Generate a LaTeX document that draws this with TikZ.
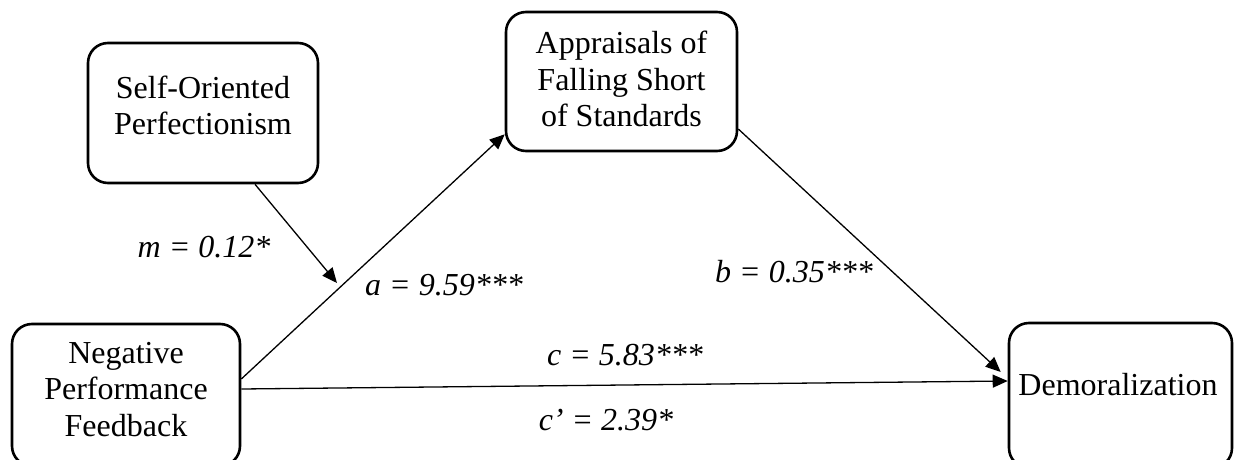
\documentclass[tikz,border=0pt]{standalone}
\usepackage{fontspec}
\setmainfont{Liberation Serif}
\usetikzlibrary{arrows.meta}
\begin{document}
\begin{tikzpicture}[x=1pt,y=-1pt,
  box/.style={draw, line width=2.6pt, rounded corners=20pt, rectangle, inner sep=0pt},
  txt/.style={font=\fontsize{32}{36.5}\selectfont, align=center, inner sep=0pt},
  lab/.style={font=\fontsize{32}{36}\selectfont\itshape, inner sep=0pt, anchor=base},
  arr/.style={line width=1.3pt, -{Triangle[length=15pt,width=13pt]}}]
\useasboundingbox (0,0) rectangle (1234,460);
% boxes
\node (self) [box, minimum width=230pt, minimum height=140pt] at (203,113) {};
\node (appr) [box, minimum width=231pt, minimum height=139pt] at (621.5,81.5) {};
\node (npf)  [box, minimum width=228pt, minimum height=142pt] at (126,395) {};
\node (dem)  [box, minimum width=223pt, minimum height=145pt] at (1120.5,395.5) {};
% texts
\node (selft) [txt] at (203,105.5) {Self-Oriented\\Perfectionism};
\node (apprt) [txt] at (621.5,79) {Appraisals of\\Falling Short\\of Standards};
\node (npft)  [txt] at (126,389.5) {Negative\\Performance\\Feedback};
\node (demt)  [txt, anchor=base] at (1118,395) {Demoralization};
% connectors
\coordinate (mtip) at (337,283);
\draw[arr] ([yshift=16pt]npf.east) -- ([yshift=18pt]appr.south west);
\draw[arr] ([yshift=6pt]npf.east) -- ([yshift=14.5pt]dem.west);
\draw[arr] ([yshift=-47.5pt]appr.east) -- ([xshift=-7pt,yshift=23.5pt]dem.west);
\draw[arr] ([xshift=52pt]self.south) -- (mtip);
% labels
\node (lm) [lab] at (204,257) {m = 0.12*};
\node (la) [lab] at (444,295) {a = 9.59***};
\node (lb) [lab] at (794,282) {b = 0.35***};
\node (lc) [lab] at (625,365) {c = 5.83***};
\node (lcp) [lab] at (606,430) {c’ = 2.39*};
\end{tikzpicture}
\end{document}
